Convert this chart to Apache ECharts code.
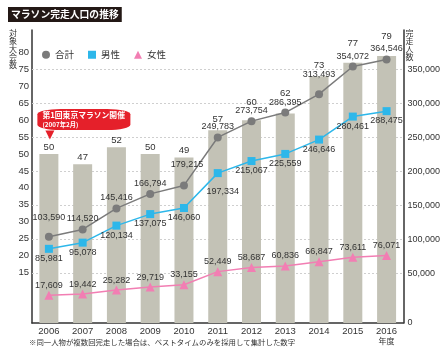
<!DOCTYPE html>
<html>
<head>
<meta charset="utf-8">
<script src="https://cdn.jsdelivr.net/npm/echarts@6/dist/echarts.min.js"></script>
<style>
  html, body { margin: 0; padding: 0; background: #fff; }
  #chart { width: 443px; height: 352px; }
</style>
</head>
<body>
<div id="chart"></div>
<script>
const years = ['2006', '2007', '2008', '2009', '2010', '2011', '2012', '2013', '2014', '2015', '2016']
const races = [50, 47, 52, 50, 49, 57, 60, 62, 73, 77, 79]
const total = [103590, 114520, 145416, 166794, 179215, 249783, 273754, 286395, 313493, 354072, 364546]
const male = [85981, 95078, 120134, 137075, 146060, 197334, 215067, 225559, 246646, 280461, 288475]
const female = [17609, 19442, 25282, 29719, 33155, 52449, 58687, 60836, 66847, 73611, 76071]

// label nudges so texts don't collide (pixels)
const barLabelLift = [0, 0, 0, 0, 0, 4, 11, 13, 4, 12, 13]
const totalLabelLift = [9, 0, 0, 0, 10, 0, 0, 0, 9, 0, 0]

const numFont = '"Liberation Sans", Arial, sans-serif'
const jpFont = '"Noto Sans CJK JP", sans-serif'
const fmt = (v) => Number(v).toLocaleString('en-US')

const chart = echarts.init(document.getElementById('chart'))

const option = {
  animation: false,
  title: [
    {
      text: 'マラソン完走人口の推移',
      left: 8,
      top: 7,
      padding: [2, 3, 2, 3],
      backgroundColor: '#231815',
      textStyle: { color: '#fff', fontSize: 9.8, fontWeight: 'bold', fontFamily: jpFont, lineHeight: 11 }
    },
    {
      text: '※同一人物が複数回完走した場合は、ベストタイムのみを採用して集計した数字',
      left: 29,
      top: 338,
      padding: 0,
      textStyle: { color: '#333', fontSize: 7.4, fontWeight: 'normal', fontFamily: jpFont }
    }
  ],
  legend: {
    left: 37,
    top: 45,
    itemWidth: 8,
    itemHeight: 8,
    itemGap: 14,
    textStyle: { color: '#333', fontSize: 9.5, fontFamily: jpFont },
    data: [
      { name: '合計', icon: 'circle' },
      { name: '男性', icon: 'rect' },
      { name: '女性', icon: 'triangle' }
    ]
  },
  grid: { left: 32, right: 39, top: 30, bottom: 29 },
  xAxis: {
    type: 'category',
    data: years,
    axisLine: { lineStyle: { color: '#333', width: 1.5 } },
    axisTick: { show: false },
    axisLabel: {
      interval: 0,
      margin: 3,
      color: '#333',
      fontSize: 9.5,
      fontFamily: numFont,
      formatter: (v, i) => i === years.length - 1 ? v + '\n{u|年度}' : v,
      rich: { u: { fontSize: 8, lineHeight: 10, color: '#333', fontFamily: jpFont } }
    }
  },
  yAxis: [
    {
      type: 'value',
      position: 'left',
      min: 0,
      max: 86.7,
      interval: 5,
      name: '対\n象\n大\n会\n数',
      nameLocation: 'end',
      nameGap: -39,
      nameMoveOverlap: false,
      nameTextStyle: {
        color: '#333', fontSize: 8, lineHeight: 8, fontFamily: jpFont,
        align: 'right', verticalAlign: 'bottom', padding: [0, 15, 0, 0]
      },
      axisLine: { show: true, lineStyle: { color: '#333', width: 1.5 } },
      axisTick: { show: false },
      splitLine: { show: false },
      axisLabel: {
        margin: 3,
        color: '#333',
        fontSize: 9.5,
        fontFamily: numFont,
        formatter: (v) => (v >= 15 && v <= 80) ? String(v) : ''
      }
    },
    {
      type: 'value',
      position: 'right',
      min: -23100,
      max: 407800,
      splitNumber: 8,
      name: '完\n走\n人\n数',
      nameLocation: 'end',
      nameGap: -31,
      nameMoveOverlap: false,
      nameTextStyle: {
        color: '#333', fontSize: 8, lineHeight: 8, fontFamily: jpFont,
        align: 'left', verticalAlign: 'bottom', padding: [0, 0, 0, 2]
      },
      axisLine: { show: true, lineStyle: { color: '#333', width: 1.5 } },
      axisTick: { show: false },
      splitLine: { show: false },
      axisLabel: {
        margin: 4,
        color: '#333',
        fontSize: 9,
        fontFamily: numFont,
        formatter: (v) => {
          if (v < 0) return '0'
          if (v === 0 || v > 350000) return ''
          return fmt(v)
        }
      }
    }
  ],
  series: [
    {
      name: '対象大会数',
      type: 'bar',
      yAxisIndex: 0,
      barWidth: 19,
      itemStyle: { color: '#c3c2b6' },
      z: 2,
      label: {
        show: true,
        position: 'top',
        distance: 2,
        color: '#333',
        fontSize: 9.5,
        fontFamily: numFont
      },
      data: races.map((v, i) => ({ value: v, label: { offset: [0, -barLabelLift[i]] } })),
      markPoint: {
        silent: true,
        data: [
          {
            coord: [years[0], races[0]],
            symbol: 'triangle',
            symbolRotate: 180,
            symbolSize: [9, 9],
            symbolOffset: [1, -19],
            itemStyle: { color: '#e5202a' },
            label: { show: false }
          },
          {
            coord: [years[0], races[0]],
            symbol: 'roundRect',
            symbolSize: [93, 21],
            symbolOffset: [35, -34.5],
            itemStyle: { color: '#e5202a' },
            label: {
              show: true,
              position: 'insideLeft',
              distance: 5,
              formatter: '{a|第1回東京マラソン開催}\n{b|(2007年2月)}',
              rich: {
                a: { color: '#fff', fontSize: 7.8, fontWeight: 'bold', lineHeight: 10, fontFamily: jpFont },
                b: { color: '#fff', fontSize: 6.3, fontWeight: 'bold', lineHeight: 8, fontFamily: jpFont }
              }
            }
          }
        ]
      }
    },
    {
      name: '合計',
      type: 'line',
      yAxisIndex: 1,
      z: 3,
      symbol: 'circle',
      symbolSize: 8,
      color: '#7b7b7b',
      lineStyle: { width: 1.5 },
      label: {
        show: true,
        position: 'top',
        distance: 2,
        color: '#333',
        fontSize: 9,
        fontFamily: numFont,
        formatter: (p) => fmt(p.value)
      },
      data: total.map((v, i) => ({ value: v, label: { offset: [i === 4 ? 3 : 0, -totalLabelLift[i]] } })),
      markLine: {
        silent: true,
        z: 1,
        symbol: 'none',
        label: { show: false },
        lineStyle: { color: '#cfcfcf', type: [2, 2], width: 1 },
        data: [50000, 100000, 150000, 200000, 250000, 300000, 350000].map((y) => ({ yAxis: y }))
      }
    },
    {
      name: '男性',
      type: 'line',
      yAxisIndex: 1,
      z: 3,
      symbol: 'rect',
      symbolSize: 8,
      color: '#2db7ea',
      lineStyle: { width: 1.5 },
      label: {
        show: true,
        position: 'bottom',
        distance: 1,
        color: '#333',
        fontSize: 9,
        fontFamily: numFont,
        formatter: (p) => fmt(p.value)
      },
      data: male.map((v, i) => i === 5 ? { value: v, label: { offset: [5, 9] } } : v)
    },
    {
      name: '女性',
      type: 'line',
      yAxisIndex: 1,
      z: 3,
      symbol: 'triangle',
      symbolSize: 9,
      color: '#f27eb3',
      lineStyle: { width: 1.5 },
      label: {
        show: true,
        position: 'top',
        distance: 1,
        color: '#333',
        fontSize: 9,
        fontFamily: numFont,
        formatter: (p) => fmt(p.value)
      },
      data: female
    }
  ]
}

chart.setOption(option)
</script>
</body>
</html>
